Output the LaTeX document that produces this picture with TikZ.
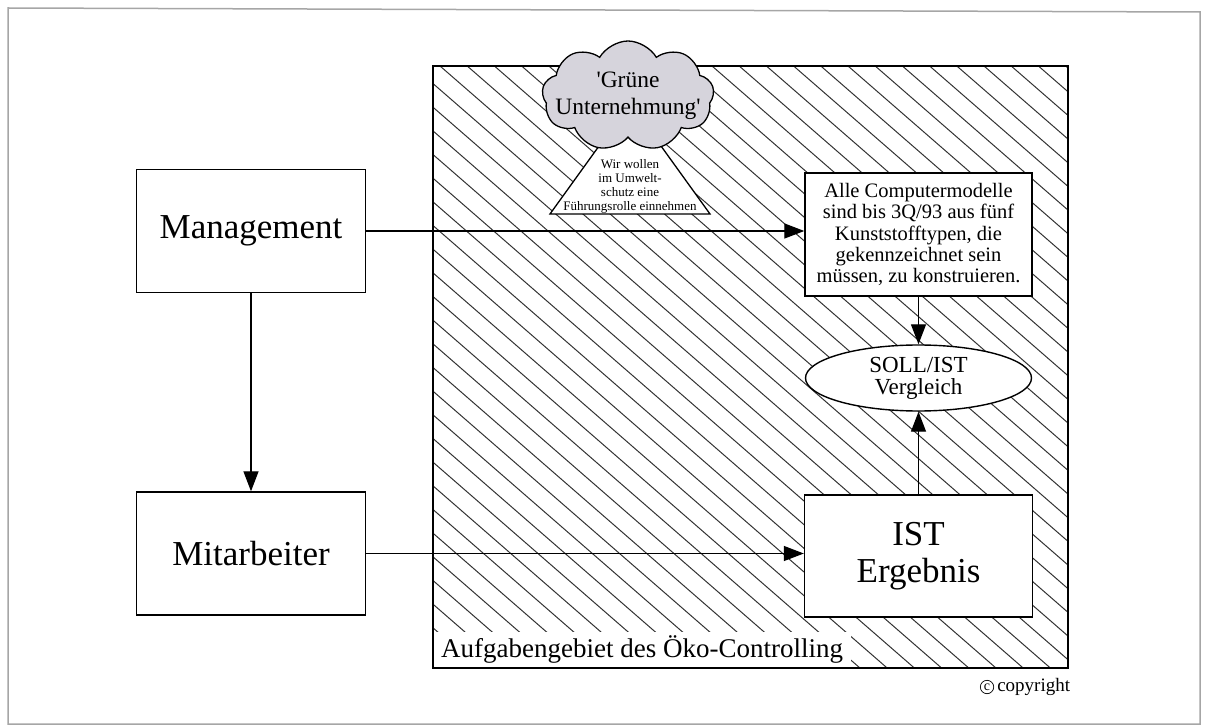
\documentclass[tikz,border=0pt]{standalone}
\usepackage{fontspec}
\setmainfont{Liberation Serif}
\usetikzlibrary{arrows.meta,shapes.geometric,shapes.symbols,positioning}

\definecolor{wolkengrau}{RGB}{214,212,220}

\begin{document}
\begin{tikzpicture}[x=1pt,y=-1pt,
    box/.style={draw,line width=1.4pt,fill=white,minimum width=229pt,minimum height=123pt,
        font=\fontsize{35}{37}\selectfont},
    pfeil/.style={line width=1.3pt,-{Triangle[length=20pt,width=15pt]}}]
    \useasboundingbox (0,0) rectangle (1205,727);
    \draw[gray!70,line width=1.5pt] (8,8) -- (1200,12) -- (1200,724) -- (8,724) -- cycle;
    \begin{scope}
        \clip (433,66) rectangle (1068,668);
        \foreach \i in {-27,...,23}
            \draw[line width=1pt,black!80] (440+27.2*\i,66) -- ++(700,609);
    \end{scope}
    \node[anchor=south west,fill=white,inner xsep=8pt,inner ysep=4pt,font=\fontsize{27}{29}\selectfont]
        (gebiet) at (433,668) {Aufgabengebiet des Öko-Controlling};
    \draw[line width=2.6pt] (433,66) rectangle (1068,668);
    \draw[line width=1.3pt,fill=white] (550,214) -- (630,103) -- (710,214) -- cycle;
    \node[anchor=south,inner sep=0pt,align=center,font=\fontsize{13}{14}\selectfont]
        (fuehrung) at (630,214) {Wir wollen\\im Umwelt-\\schutz eine\\Führungsrolle einnehmen};
    \node[cloud,cloud puffs=9,cloud puff arc=120,draw,line width=1.3pt,fill=wolkengrau,
        minimum width=172pt,minimum height=110pt,inner sep=0pt,
        label={[align=center,font=\fontsize{23.5}{27}\selectfont]center:{\textquotesingle Grüne\\Unternehmung\textquotesingle}}]
        (wolke) at (628,96) {};
    \node[box] (management) at (251,231) {Management};
    \node[box] (mitarbeiter) at (251,553.5) {Mitarbeiter};
    \node[box,minimum width=227pt,align=center,font=\fontsize{20.5}{21.3}\selectfont]
        (soll) at (918.5,234.5) {Alle Computermodelle\\sind bis 3Q/93 aus fünf\\Kunststofftypen, die\\gekennzeichnet sein\\müssen, zu konstruieren.};
    \node[ellipse,draw,line width=1.4pt,fill=white,minimum width=226pt,minimum height=66pt,
        inner sep=0pt,align=center,font=\fontsize{23}{22}\selectfont]
        (vergleich) at (918.5,378) {SOLL/IST\\Vergleich};
    \node[box,minimum width=228pt,minimum height=122pt,align=center] (ist) at (918.5,556) {IST\\Ergebnis};
    \draw[pfeil] (management) -- (mitarbeiter);
    \draw[pfeil] (management.east) -- (management.east -| soll.west);
    \draw[pfeil] (mitarbeiter.east) -- (mitarbeiter.east -| ist.west);
    \draw[pfeil] (soll) -- (vergleich);
    \draw[pfeil] (ist) -- (vergleich);
    \node[circle,draw,line width=0.7pt,inner sep=1.5pt,font=\fontsize{14}{14}\selectfont] (kreis) at (987,687) {c};
    \node[right=3pt of kreis,inner sep=0pt,font=\fontsize{19}{19}\selectfont] (copy) {copyright};
\end{tikzpicture}
\end{document}
